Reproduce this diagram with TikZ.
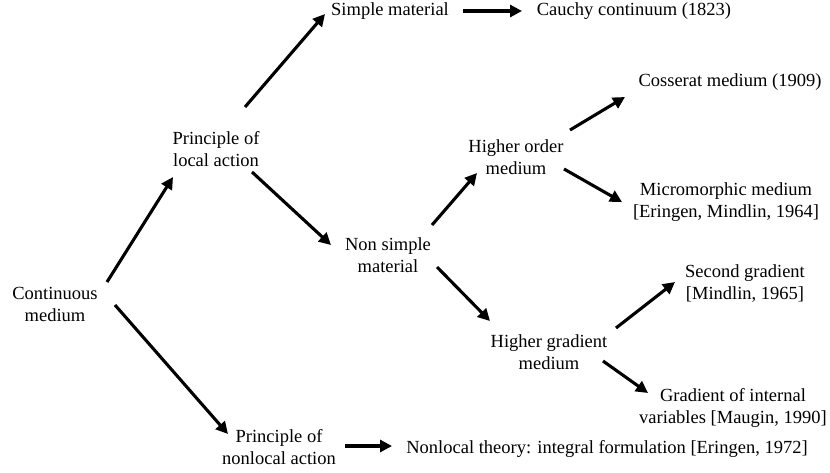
\documentclass[tikz,border=0pt]{standalone}
\usepackage{fontspec}
\setmainfont{Liberation Serif}
\usetikzlibrary{arrows.meta}
\begin{document}
\begin{tikzpicture}[x=1pt,y=-1pt,
  lbl/.style={align=center,inner sep=0pt,font=\fontsize{18.5}{22}\selectfont},
  arr/.style={line width=3.1pt,-{Triangle[length=12pt,width=12pt]}}]
\useasboundingbox[fill=white] (0,0) rectangle (830,472);
\node[lbl] (cm)  at (55,304)  {Continuous\\medium};
\node[lbl] (pla) at (216,149) {Principle of\\local action};
\node[lbl] (sm)  at (390,11)  {Simple material};
\node[lbl] (cc)  at (634,11)  {Cauchy continuum (1823)};
\node[lbl] (nsm) at (388,255) {Non simple\\material};
\node[lbl] (hom) at (516,157) {Higher order\\medium};
\node[lbl] (cos) at (730,82)  {Cosserat medium (1909)};
\node[lbl] (mic) at (726,202) {Micromorphic medium\\{[}Eringen, Mindlin, 1964]};
\node[lbl] (hgm) at (549,352) {Higher gradient\\medium};
\node[lbl] (sg)  at (745,283) {Second gradient\\{[}Mindlin, 1965]};
\node[lbl] (gi)  at (733,408) {Gradient of internal\\variables [Maugin, 1990]};
\node[lbl] (pna) at (279,447) {Principle of\\nonlocal action};
\node[lbl] (nt)  at (607,449) {Nonlocal theory: integral formulation [Eringen, 1972]};
\draw[arr] ([shift={(52,-22)}]cm.center) -- ([shift={(-43,28)}]pla.center);
\draw[arr] ([shift={(60,1)}]cm.center) -- ([shift={(-51,-13)}]pna.center);
\draw[arr] ([shift={(29,-42)}]pla.center) -- ([shift={(-65,3)}]sm.center);
\draw[arr] ([shift={(36,23)}]pla.center) -- ([shift={(-57,-10)}]nsm.center);
\draw[arr] ([shift={(73,0)}]sm.center) -- ([shift={(-112,0)}]cc.center);
\draw[arr] ([shift={(44,-30)}]nsm.center) -- ([shift={(-39,16)}]hom.center);
\draw[arr] ([shift={(49,12)}]nsm.center) -- ([shift={(-59,-31)}]hgm.center);
\draw[arr] ([shift={(54,-27)}]hom.center) -- ([shift={(-105,15)}]cos.center);
\draw[arr] ([shift={(48,12)}]hom.center) -- ([shift={(-104,0)}]mic.center);
\draw[arr] ([shift={(67,-24)}]hgm.center) -- ([shift={(-70,-1)}]sg.center);
\draw[arr] ([shift={(54,9)}]hgm.center) -- ([shift={(-85,-15)}]gi.center);
\draw[arr] ([shift={(66,-1)}]pna.center) -- ([shift={(-215,-3)}]nt.center);
\end{tikzpicture}
\end{document}
